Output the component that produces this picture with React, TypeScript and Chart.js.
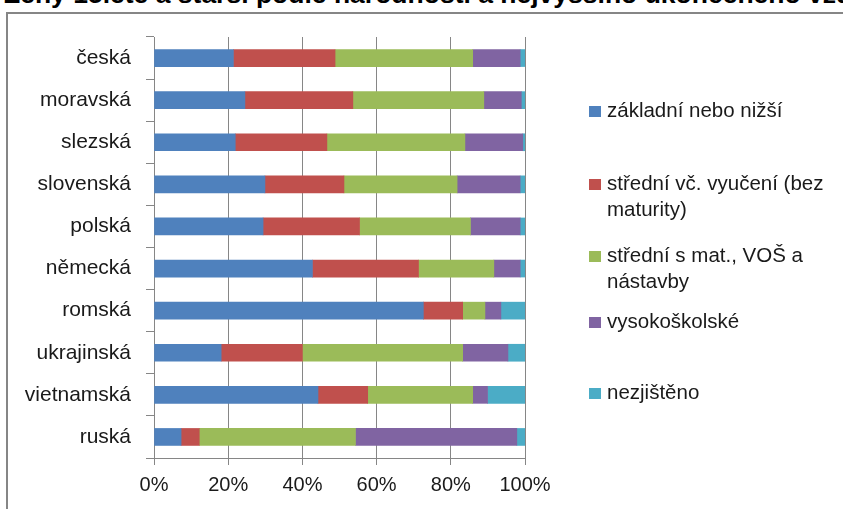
import React, { useEffect, useRef } from 'react';
import { Chart, registerables } from 'chart.js';

Chart.register(...registerables);

const TITLE = 'Ženy 15leté a starší podle národnosti a nejvyššího ukončeného vzdělání';
const categories = ['česká', 'moravská', 'slezská', 'slovenská', 'polská', 'německá', 'romská', 'ukrajinská', 'vietnamská', 'ruská'];
const seriesNames = ['základní nebo nižší', 'střední vč. vyučení (bez maturity)', 'střední s mat., VOŠ a nástavby', 'vysokoškolské', 'nezjištěno'];
const zakladni = [21.4, 24.5, 21.9, 29.9, 29.4, 42.7, 72.6, 18.1, 44.2, 7.3];
const stredniBezMat = [27.4, 29.1, 24.7, 21.3, 26.0, 28.6, 10.6, 21.9, 13.4, 4.9];
const stredniSMat = [37.1, 35.3, 37.2, 30.5, 29.9, 20.3, 6.0, 43.2, 28.3, 42.1];
const vysokoskolske = [12.8, 10.1, 15.6, 17.0, 13.4, 7.1, 4.3, 12.2, 4.0, 43.5];
const nezjisteno = [1.3, 1.0, 0.6, 1.3, 1.3, 1.3, 6.5, 4.6, 10.1, 2.2];
const xTickValues = [0, 20, 40, 60, 80, 100];
const seriesColors = ['#4F81BD', '#C0504D', '#9BBB59', '#8064A2', '#4BACC6'];
const seriesValues = [zakladni, stredniBezMat, stredniSMat, vysokoskolske, nezjisteno];

const legendTops = [97, 170, 242, 308, 379];
const FONT = '"Liberation Sans", Arial, sans-serif';
const TEXT = '#1a1a1a';
const GRID = '#868686';

export default function App() {
  const canvasRef = useRef<HTMLCanvasElement | null>(null);

  useEffect(() => {
    const canvas = canvasRef.current;
    if (!canvas) return;
    const chart = new Chart(canvas, {
      type: 'bar',
      data: {
        labels: categories,
        datasets: seriesValues.map((vals, i) => ({
          label: seriesNames[i],
          data: vals,
          backgroundColor: seriesColors[i],
          borderWidth: 0,
          barThickness: 17,
        })),
      },
      options: {
        indexAxis: 'y',
        animation: false,
        responsive: false,
        devicePixelRatio: 1,
        layout: { padding: { top: 37, right: 318, left: 0, bottom: 0 } },
        plugins: {
          legend: { display: false },
          tooltip: { enabled: false },
          title: { display: false },
        },
        scales: {
          x: {
            stacked: true,
            min: 0,
            max: 100,
            afterBuildTicks: (scale: any) => {
              scale.ticks = xTickValues.map((v) => ({ value: v }));
            },
            afterFit: (scale: any) => {
              scale.height = 51;
            },
            ticks: {
              callback: (v: any) => `${v}%`,
              font: { family: FONT, size: 20 },
              color: TEXT,
              padding: 8,
              maxRotation: 0,
            },
            grid: { color: GRID, lineWidth: 1, tickLength: 7, drawTicks: true },
            border: { color: GRID, width: 1 },
          },
          y: {
            stacked: true,
            afterFit: (scale: any) => {
              scale.width = 154;
            },
            ticks: {
              font: { family: FONT, size: 21 },
              color: TEXT,
              padding: 15,
            },
            grid: { offset: true, drawOnChartArea: false, color: GRID, tickLength: 8, drawTicks: true },
            border: { color: GRID, width: 1 },
          },
        },
      },
    });
    return () => chart.destroy();
  }, []);

  return (
    <div style={{ position: 'fixed', left: 0, top: 0, width: 843, height: 509, overflow: 'hidden', background: '#fff' }}>
      <div
        style={{
          position: 'absolute',
          left: 4,
          top: -19,
          fontFamily: FONT,
          fontWeight: 'bold',
          fontSize: 26.5,
          lineHeight: '27px',
          whiteSpace: 'nowrap',
          color: '#000',
        }}
      >
        {TITLE}
      </div>
      <div
        style={{
          position: 'absolute',
          left: 6,
          top: 12,
          width: 900,
          height: 600,
          borderLeft: `2px solid ${GRID}`,
          borderTop: `2px solid ${GRID}`,
        }}
      />
      <canvas ref={canvasRef} width={843} height={509} style={{ position: 'absolute', left: 0, top: 0, width: 843, height: 509 }} />
      {seriesNames.map((name, i) => (
        <div
          key={name}
          style={{
            position: 'absolute',
            left: 589,
            top: legendTops[i],
            width: 250,
            display: 'flex',
            alignItems: 'flex-start',
            fontFamily: FONT,
            fontSize: 20.5,
            lineHeight: '26px',
            color: TEXT,
          }}
        >
          <span style={{ display: 'inline-block', width: 12, height: 11, marginTop: 9, marginRight: 6, background: seriesColors[i], flex: '0 0 auto' }} />
          <span style={{ width: 232 }}>{name}</span>
        </div>
      ))}
    </div>
  );
}
